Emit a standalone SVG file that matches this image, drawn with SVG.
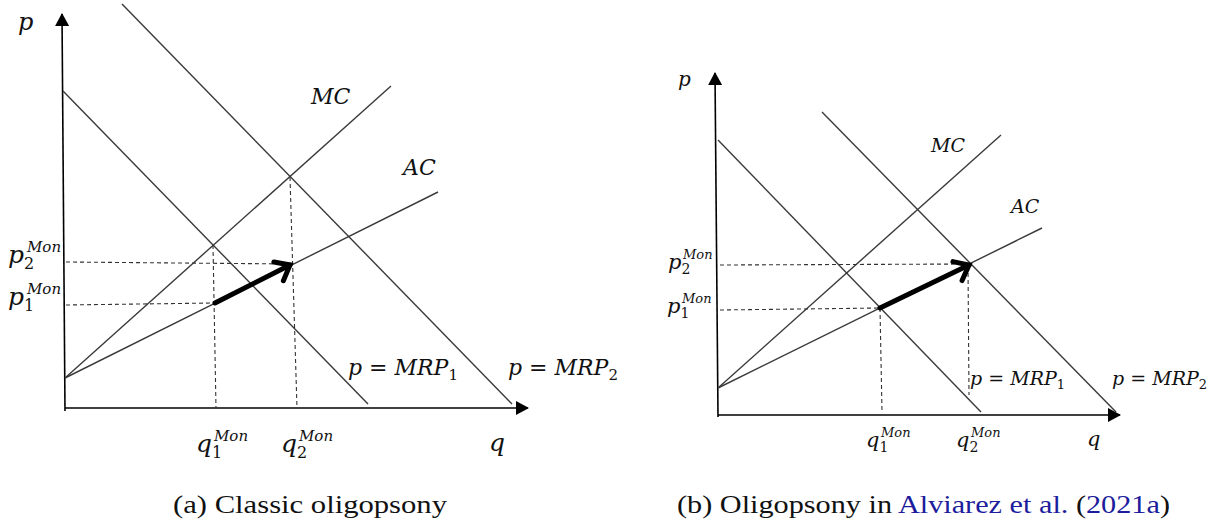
<svg xmlns="http://www.w3.org/2000/svg" width="1212" height="529" viewBox="0 0 1212 529">
<style>
.ax{stroke:#000;stroke-width:1.6;fill:none}
.ln{stroke:#3a3a3a;stroke-width:1.4;fill:none}
.dash{stroke:#333;stroke-width:1.1;stroke-dasharray:4 3;fill:none}
.big{stroke:#000;stroke-width:5;fill:none;stroke-linecap:round}
.m{font-family:"DejaVu Serif","Liberation Serif",serif;font-style:italic;fill:#111}
.up{font-style:normal}
.cap{font-family:"Liberation Serif",serif;font-size:26px;fill:#111}
.link{fill:#1c1c9c}
</style>
<defs>
<marker id="tri" markerWidth="14" markerHeight="14" refX="12" refY="7" orient="auto" markerUnits="userSpaceOnUse">
<path d="M0,0 L13,7 L0,14 Z" fill="#000"/>
</marker>
<marker id="chev" markerWidth="24" markerHeight="30" refX="18" refY="15" orient="auto" markerUnits="userSpaceOnUse">
<path d="M5,5 L18,15 L5,26" stroke="#000" stroke-width="5" fill="none" stroke-linecap="round" stroke-linejoin="miter"/>
</marker>
</defs>

<g id="panel-a">
<g id="axes-a">
<line class="ax" x1="65" y1="411" x2="62" y2="14" marker-end="url(#tri)"/>
<line class="ax" x1="65" y1="408" x2="528" y2="408" marker-end="url(#tri)"/>
</g>
<g id="connectors-a">
<line id="mrp1-a" class="ln" x1="63" y1="91" x2="368" y2="404"/>
<line id="mrp2-a" class="ln" x1="122" y1="4" x2="512" y2="404"/>
<line id="mc-a" class="ln" x1="65" y1="378" x2="391" y2="86"/>
<line id="ac-a" class="ln" x1="65" y1="378" x2="438" y2="192"/>
<line class="dash" x1="66" y1="262" x2="292" y2="264"/>
<line class="dash" x1="66" y1="305" x2="215" y2="303"/>
<line class="dash" x1="213" y1="245" x2="216" y2="408"/>
<line class="dash" x1="290" y1="177" x2="297" y2="408"/>
<line class="big" x1="215" y1="303" x2="290" y2="265" marker-end="url(#chev)"/>
</g>
<g id="labels-a">
<text class="m" x="18" y="30" font-size="24">p</text>
<text class="m" x="311" y="104" font-size="22">MC</text>
<text class="m" x="403" y="175" font-size="22">AC</text>
<text class="m" x="8" y="263" font-size="25">p<tspan class="up" font-size="16" dy="6">2</tspan><tspan x="27" dy="-17" font-size="15">Mon</tspan></text>
<text class="m" x="8" y="305" font-size="25">p<tspan class="up" font-size="16" dy="6">1</tspan><tspan x="27" dy="-17" font-size="15">Mon</tspan></text>
<text class="m" x="196" y="452" font-size="25">q<tspan class="up" font-size="16" dy="6">1</tspan><tspan x="214" dy="-17" font-size="15">Mon</tspan></text>
<text class="m" x="281" y="452" font-size="25">q<tspan class="up" font-size="16" dy="6">2</tspan><tspan x="299" dy="-17" font-size="15">Mon</tspan></text>
<text class="m" x="489" y="451" font-size="25">q</text>
<text class="m" x="348" y="375" font-size="22">p<tspan class="up"> = </tspan>MRP<tspan class="up" font-size="15" dy="5">1</tspan></text>
<text class="m" x="508" y="375" font-size="22">p<tspan class="up"> = </tspan>MRP<tspan class="up" font-size="15" dy="5">2</tspan></text>
</g>
<text id="caption-a" class="cap" x="173" y="513" textLength="274" lengthAdjust="spacingAndGlyphs">(a) Classic oligopsony</text>
</g>

<g id="panel-b">
<g id="axes-b">
<line class="ax" x1="718" y1="417" x2="715" y2="73" marker-end="url(#tri)"/>
<line class="ax" x1="718" y1="415" x2="1120" y2="415" marker-end="url(#tri)"/>
</g>
<g id="connectors-b">
<line id="mrp1-b" class="ln" x1="718" y1="140" x2="981" y2="412"/>
<line id="mrp2-b" class="ln" x1="822" y1="112" x2="1116" y2="412"/>
<line id="mc-b" class="ln" x1="718" y1="388" x2="1001" y2="135"/>
<line id="ac-b" class="ln" x1="718" y1="388" x2="1042" y2="228"/>
<line class="dash" x1="720" y1="265" x2="970" y2="264"/>
<line class="dash" x1="720" y1="310" x2="880" y2="308"/>
<line class="dash" x1="880" y1="308" x2="882" y2="412"/>
<line class="dash" x1="968" y1="266" x2="969" y2="395"/>
<line class="big" x1="880" y1="308" x2="969" y2="265" marker-end="url(#chev)"/>
</g>
<g id="labels-b">
<text class="m" x="678" y="86" font-size="20">p</text>
<text class="m" x="931" y="152" font-size="19">MC</text>
<text class="m" x="1011" y="213" font-size="19">AC</text>
<text class="m" x="668" y="269" font-size="21">p<tspan class="up" font-size="14" dy="5">2</tspan><tspan x="683" dy="-15" font-size="13">Mon</tspan></text>
<text class="m" x="667" y="313" font-size="21">p<tspan class="up" font-size="14" dy="5">1</tspan><tspan x="682" dy="-15" font-size="13">Mon</tspan></text>
<text class="m" x="866" y="447" font-size="21">q<tspan class="up" font-size="14" dy="5">1</tspan><tspan x="881" dy="-15" font-size="13">Mon</tspan></text>
<text class="m" x="956" y="447" font-size="21">q<tspan class="up" font-size="14" dy="5">2</tspan><tspan x="971" dy="-15" font-size="13">Mon</tspan></text>
<text class="m" x="1087" y="446" font-size="21">q</text>
<text class="m" x="970" y="385" font-size="19">p<tspan class="up"> = </tspan>MRP<tspan class="up" font-size="13" dy="4">1</tspan></text>
<text class="m" x="1112" y="385" font-size="19">p<tspan class="up"> = </tspan>MRP<tspan class="up" font-size="13" dy="4">2</tspan></text>
</g>
<text id="caption-b" class="cap" x="677" y="513" textLength="493" lengthAdjust="spacingAndGlyphs">(b) Oligopsony in <tspan class="link">Alviarez et al.</tspan> (<tspan class="link">2021a</tspan>)</text>
</g>
</svg>
